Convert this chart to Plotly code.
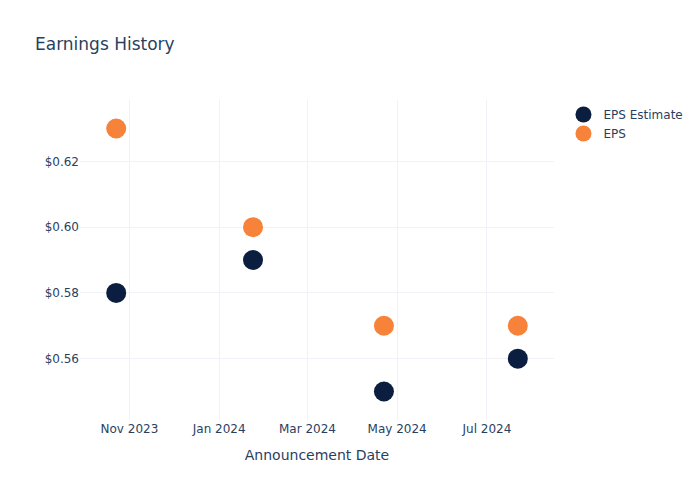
import plotly.graph_objects as go

dates = ["2023-10-23", "2024-01-24", "2024-04-22", "2024-07-22"]
eps_estimate = [0.58, 0.59, 0.55, 0.56]
eps_actual = [0.63, 0.60, 0.57, 0.57]

fig = go.Figure()
fig.add_trace(go.Scatter(x=dates, y=eps_estimate, mode="markers", name="EPS Estimate",
                         marker=dict(color="#0b1e3f", size=20)))
fig.add_trace(go.Scatter(x=dates, y=eps_actual, mode="markers", name="EPS",
                         marker=dict(color="#f7833a", size=20)))
fig.update_layout(
    template="plotly_white",
    width=700, height=500,
    font=dict(family="DejaVu Sans"),
    title=dict(text="Earnings History"),
    xaxis=dict(title=dict(text="Announcement Date"), tickformat="%b %Y", dtick="M2",
               gridcolor="#f0f2f7"),
    yaxis=dict(tickprefix="$", tickformat=".2f", dtick=0.02, gridcolor="#f0f2f7"),
)
fig.write_html("out.html")
